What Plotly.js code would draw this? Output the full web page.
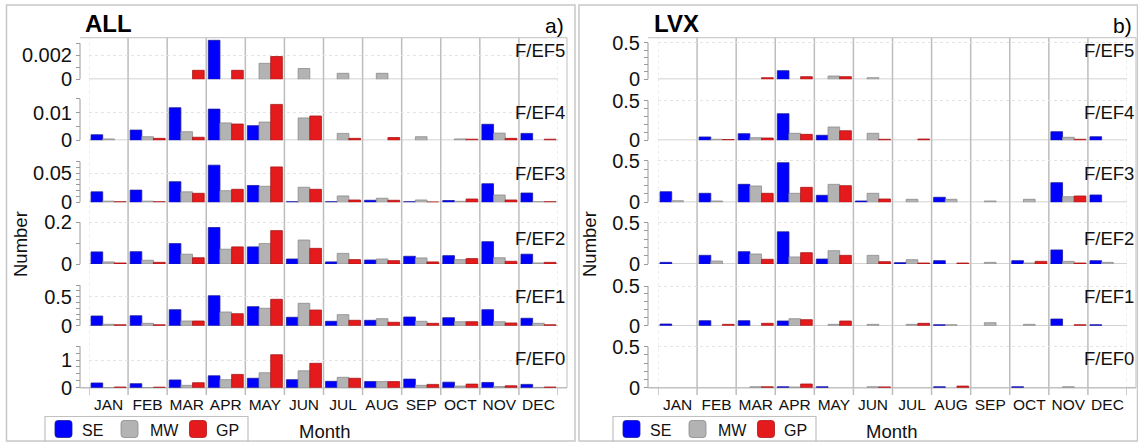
<!DOCTYPE html>
<html>
<head>
<meta charset="utf-8">
<script src="https://cdn.plot.ly/plotly-3.0.1.min.js"></script>
<style>
  html, body { margin: 0; padding: 0; background: #ffffff; }
  #chart { width: 1138px; height: 442px; }
</style>
</head>
<body>
<div id="chart"></div>
<script>
// Monthly tornado counts by rating and region
const months = ['JAN', 'FEB', 'MAR', 'APR', 'MAY', 'JUN', 'JUL', 'AUG', 'SEP', 'OCT', 'NOV', 'DEC'];
const regions = ['SE', 'MW', 'GP'];
const ratings = ['F/EF5', 'F/EF4', 'F/EF3', 'F/EF2', 'F/EF1', 'F/EF0'];

// ALL
const all_ef5_se = [0, 0, 0, 0.00325, 0, 0, 0, 0, 0, 0, 0, 0];
const all_ef5_mw = [0, 0, 0, 0, 0.00133, 0.0009, 0.0005, 0.0005, 0, 0, 0, 0];
const all_ef5_gp = [0, 0, 0.00075, 0.00075, 0.0019, 0, 0, 0, 0, 0, 0, 0];

const all_ef4_se = [0.002, 0.0037, 0.0118, 0.0113, 0.0053, 0, 0, 0, 0, 0, 0.0058, 0.0025];
const all_ef4_mw = [0.0005, 0.0013, 0.0031, 0.0063, 0.0066, 0.0081, 0.0025, 0, 0.0013, 0.0005, 0.0026, 0];
const all_ef4_gp = [0, 0.0007, 0.0011, 0.0059, 0.013, 0.0088, 0.0007, 0.001, 0, 0.0004, 0.0007, 0.0004];

const all_ef3_se = [0.018, 0.021, 0.0355, 0.064, 0.029, 0.001, 0.001, 0.0035, 0.001, 0.003, 0.032, 0.016];
const all_ef3_mw = [0.002, 0.002, 0.018, 0.020, 0.0276, 0.026, 0.011, 0.007, 0.004, 0.0017, 0.0126, 0.001];
const all_ef3_gp = [0.001, 0.001, 0.0155, 0.0224, 0.061, 0.0224, 0.004, 0.0035, 0.0005, 0.0057, 0.004, 0.001];

const all_ef2_se = [0.058, 0.059, 0.098, 0.175, 0.082, 0.024, 0.01, 0.019, 0.037, 0.04, 0.107, 0.047];
const all_ef2_mw = [0.01, 0.018, 0.047, 0.071, 0.098, 0.115, 0.051, 0.024, 0.029, 0.021, 0.03, 0.005];
const all_ef2_gp = [0.005, 0.008, 0.03, 0.082, 0.16, 0.075, 0.021, 0.016, 0.01, 0.026, 0.013, 0.008];

const all_ef1_se = [0.167, 0.172, 0.276, 0.517, 0.328, 0.145, 0.076, 0.093, 0.15, 0.138, 0.276, 0.128];
const all_ef1_mw = [0.024, 0.041, 0.081, 0.236, 0.3, 0.386, 0.19, 0.121, 0.076, 0.069, 0.069, 0.041];
const all_ef1_gp = [0.017, 0.017, 0.081, 0.207, 0.455, 0.27, 0.093, 0.059, 0.041, 0.069, 0.047, 0.017];

const all_ef0_se = [0.17, 0.145, 0.28, 0.43, 0.34, 0.29, 0.23, 0.22, 0.31, 0.2, 0.19, 0.12];
const all_ef0_mw = [0.005, 0.005, 0.085, 0.29, 0.54, 0.61, 0.375, 0.22, 0.085, 0.06, 0.04, 0.01];
const all_ef0_gp = [0.025, 0.02, 0.18, 0.48, 1.19, 0.88, 0.34, 0.22, 0.12, 0.13, 0.07, 0.025];

// LVX
const lvx_ef5_se = [0, 0, 0, 0.118, 0, 0, 0, 0, 0, 0, 0, 0];
const lvx_ef5_mw = [0, 0, 0, 0, 0.045, 0.022, 0, 0, 0, 0, 0, 0];
const lvx_ef5_gp = [0, 0, 0.022, 0.036, 0.036, 0, 0, 0, 0, 0, 0, 0];

const lvx_ef4_se = [0, 0.042, 0.083, 0.334, 0.063, 0, 0, 0, 0, 0, 0.108, 0.045];
const lvx_ef4_mw = [0, 0.013, 0.033, 0.088, 0.167, 0.088, 0, 0, 0, 0, 0.038, 0];
const lvx_ef4_gp = [0, 0.01, 0.029, 0.075, 0.12, 0.013, 0.016, 0, 0, 0, 0.013, 0];

const lvx_ef3_se = [0.127, 0.108, 0.216, 0.476, 0.084, 0.016, 0, 0.06, 0, 0, 0.236, 0.088];
const lvx_ef3_mw = [0.019, 0.016, 0.196, 0.108, 0.216, 0.108, 0.036, 0.036, 0.016, 0.036, 0.067, 0];
const lvx_ef3_gp = [0, 0, 0.108, 0.18, 0.2, 0.04, 0, 0, 0, 0, 0.076, 0];

const lvx_ef2_se = [0.02, 0.105, 0.149, 0.39, 0.06, 0, 0.016, 0.04, 0, 0.04, 0.17, 0.04];
const lvx_ef2_mw = [0, 0.036, 0.121, 0.085, 0.161, 0.105, 0.052, 0, 0.02, 0.012, 0.032, 0.02];
const lvx_ef2_gp = [0, 0, 0.057, 0.137, 0.105, 0.028, 0.012, 0.012, 0, 0.032, 0.012, 0];

const lvx_ef1_se = [0.021, 0.063, 0.063, 0.059, 0, 0, 0, 0.013, 0, 0, 0.084, 0.013];
const lvx_ef1_mw = [0, 0, 0, 0.088, 0.017, 0.017, 0.017, 0.013, 0.038, 0.017, 0, 0];
const lvx_ef1_gp = [0, 0.017, 0.03, 0.076, 0.059, 0, 0.03, 0, 0, 0, 0.013, 0];

const lvx_ef0_se = [0, 0, 0, 0.012, 0.012, 0, 0, 0.012, 0, 0.012, 0, 0];
const lvx_ef0_mw = [0, 0, 0.012, 0.008, 0, 0.012, 0, 0, 0, 0, 0.012, 0];
const lvx_ef0_gp = [0, 0, 0.012, 0.045, 0, 0.01, 0, 0.02, 0, 0, 0, 0];

// Tick marks per row (labelled ticks and unlabelled minor ticks)
const all_ticks = [
  { vals: [0, 0.002], text: ['0', '0.002'], minor: 0.001 },
  { vals: [0, 0.01], text: ['0', '0.01'], minor: 0.005 },
  { vals: [0, 0.05], text: ['0', '0.05'], minor: 0.01 },
  { vals: [0, 0.2], text: ['0', '0.2'], minor: 0.1 },
  { vals: [0, 0.5], text: ['0', '0.5'], minor: 0.1 },
  { vals: [0, 1], text: ['0', '1'], minor: 0.25 }
];
const all_tops = [0.003, 0.015, 0.07, 0.2, 0.7, 1.5];
const lvx_tick = { vals: [0, 0.5], text: ['0', '0.5'], minor: 0.1 };
const lvx_ticks = [lvx_tick, lvx_tick, lvx_tick, lvx_tick, lvx_tick, lvx_tick];
const lvx_tops = [0.5, 0.5, 0.5, 0.5, 0.5, 0.5];

// ---- drawing ----
const W = 1138, H = 442;
const px = v => v / W;
const py = v => 1 - v / H;
const FONT = '"Liberation Sans", Arial, Helvetica, sans-serif';
const TXT = '#111111';

const colors = ['#0000ff', '#b3b3b3', '#e41a1c'];
const edges = ['#1a1aa0', '#8c8c8c', '#a81818'];
const LINE = '#bdbdbd';
const AXIS = '#9a9a9a';

const FRAME_TOP = 37.7;
const FRAME_BOTTOM = 387.7;
const TICK_BOTTOM = 395;

const panels = [
  {
    title: 'ALL', tag: 'a)',
    series: [
      [all_ef5_se, all_ef5_mw, all_ef5_gp],
      [all_ef4_se, all_ef4_mw, all_ef4_gp],
      [all_ef3_se, all_ef3_mw, all_ef3_gp],
      [all_ef2_se, all_ef2_mw, all_ef2_gp],
      [all_ef1_se, all_ef1_mw, all_ef1_gp],
      [all_ef0_se, all_ef0_mw, all_ef0_gp]
    ],
    ticks: all_ticks, tops: all_tops,
    // pixel geometry: row zero lines and pixels per unit
    zero: [79.3, 140.3, 202.3, 264, 325.7, 387.7],
    scale: [12000, 2760, 580, 208.5, 58, 27.7],
    box: [6.5, 575], axisX: 80, plotL: 89, plotR: 558, frameR: 567,
    titleX: 83, tagR: 566, numberX: 20, monthX: 324, legendL: 45
  },
  {
    title: 'LVX', tag: 'b)',
    series: [
      [lvx_ef5_se, lvx_ef5_mw, lvx_ef5_gp],
      [lvx_ef4_se, lvx_ef4_mw, lvx_ef4_gp],
      [lvx_ef3_se, lvx_ef3_mw, lvx_ef3_gp],
      [lvx_ef2_se, lvx_ef2_mw, lvx_ef2_gp],
      [lvx_ef1_se, lvx_ef1_mw, lvx_ef1_gp],
      [lvx_ef0_se, lvx_ef0_mw, lvx_ef0_gp]
    ],
    ticks: lvx_ticks, tops: lvx_tops,
    zero: [79.3, 140.3, 202.3, 264, 325.7, 387.7],
    scale: [73.2, 79.6, 83.2, 82.6, 79.4, 82],
    box: [579, 1137.5], axisX: 648, plotL: 658, plotR: 1127, frameR: 1136,
    titleX: 652, tagR: 1134, numberX: 589, monthX: 891, legendL: 613
  }
];
const labelY = [50, 112, 173.3, 239, 296.7, 358];

const data = [];
const shapes = [];
const annotations = [];
const layout = {
  width: W, height: H,
  margin: { l: 0, r: 0, t: 0, b: 0 },
  paper_bgcolor: '#ffffff', plot_bgcolor: 'rgba(0,0,0,0)',
  barmode: 'group', bargap: 0.105, bargroupgap: 0,
  showlegend: false,
  font: { family: FONT, color: TXT },
  hovermode: false
};

function line(x0, y0, x1, y1, xref, yref, color, width, dash, layer) {
  return { type: 'line', x0, y0, x1, y1, xref, yref, layer: layer || 'between',
           line: { color, width, dash: dash || 'solid' } };
}

// rounded square given pixel corners (top-left, bottom-right)
function roundRect(left, top, right, bottom, r) {
  const a = px(left), b = px(right), lo = py(bottom), hi = py(top);
  const rx = r / W, ry = r / H;
  return `M${a + rx},${lo} L${b - rx},${lo} Q${b},${lo} ${b},${lo + ry} L${b},${hi - ry} ` +
         `Q${b},${hi} ${b - rx},${hi} L${a + rx},${hi} Q${a},${hi} ${a},${hi - ry} ` +
         `L${a},${lo + ry} Q${a},${lo} ${a + rx},${lo} Z`;
}

panels.forEach((p, pi) => {
  const xId = pi === 0 ? 'x' : 'x2';
  const xKey = pi === 0 ? 'xaxis' : 'xaxis2';
  const bottomY = 'y' + (pi * 6 + 6);

  layout[xKey] = {
    domain: [px(p.plotL), px(p.plotR)], anchor: bottomY,
    type: 'category', categoryorder: 'array', categoryarray: months,
    range: [-0.5, 11.5], showgrid: false, zeroline: false, showline: false,
    ticks: '', tickfont: { size: 15.5, color: TXT, family: FONT },
    ticklabelstandoff: 6, fixedrange: true
  };

  p.series.forEach((rowSeries, ri) => {
    const n = pi * 6 + ri + 1;
    const yId = n === 1 ? 'y' : 'y' + n;
    const yKey = n === 1 ? 'yaxis' : 'yaxis' + n;
    const zero = p.zero[ri], scale = p.scale[ri];
    const topPx = ri === 0 ? FRAME_TOP : zero - 45;
    const t = p.ticks[ri];
    const lastTick = p.tops[ri];

    layout[yKey] = {
      domain: [py(zero), py(topPx)],
      range: [0, (zero - topPx) / scale],
      anchor: 'free', position: px(p.axisX),
      tickmode: 'array', tickvals: t.vals, ticktext: t.text,
      ticks: 'outside', ticklen: 4, tickwidth: 1, tickcolor: AXIS,
      minor: { tickmode: 'linear', tick0: 0, dtick: t.minor, ticks: 'outside', ticklen: 4,
               tickwidth: 1, tickcolor: AXIS, showgrid: false },
      showgrid: true, gridcolor: '#e4e4e4', griddash: 'dot', gridwidth: 1,
      zeroline: false, showline: false,
      tickfont: { size: 20, color: TXT, family: FONT },
      ticklabelstandoff: 0, fixedrange: true
    };

    // axis spine covers the tick span only
    shapes.push(line(px(p.axisX), 0, px(p.axisX), lastTick, 'paper', yId, AXIS, 1));
    // zero baseline of each row
    shapes.push(line(-0.5, 0, 11.5, 0, xId, yId, '#c4c4c4', 1.5));

    rowSeries.forEach((vals, k) => {
      data.push({
        type: 'bar', x: months,
        // months with no events have no bar
        y: vals.map(v => (v === 0 ? null : v)),
        xaxis: xId, yaxis: yId, name: regions[k],
        marker: { color: colors[k], line: { color: edges[k], width: 0.8 } },
        hoverinfo: 'skip'
      });
    });

    annotations.push({
      text: ratings[ri], xref: 'paper', yref: 'paper',
      x: px(p.frameR), y: py(labelY[ri]), xanchor: 'right', yanchor: 'middle',
      showarrow: false, font: { size: 18.5, color: TXT, family: FONT }
    });
  });

  // month separators and end ticks
  for (let i = 0; i <= 12; i++) {
    const xv = i - 0.5;
    if (i === 0 || i === 12) {
      shapes.push(line(xv, py(FRAME_BOTTOM), xv, py(FRAME_TOP), xId, 'paper', '#dcdcdc', 1, 'dot'));
      shapes.push(line(xv, py(TICK_BOTTOM), xv, py(FRAME_BOTTOM), xId, 'paper', LINE, 1.5));
    } else {
      shapes.push(line(xv, py(TICK_BOTTOM), xv, py(FRAME_TOP), xId, 'paper', LINE, 1.5));
    }
  }

  // plot frame (top, right, bottom)
  shapes.push(line(px(p.axisX), py(FRAME_TOP), px(p.frameR), py(FRAME_TOP), 'paper', 'paper', '#cccccc', 1.3));
  shapes.push(line(px(p.frameR), py(FRAME_TOP), px(p.frameR), py(FRAME_BOTTOM), 'paper', 'paper', '#cccccc', 1.3));
  shapes.push(line(px(p.axisX), py(FRAME_BOTTOM), px(p.frameR), py(FRAME_BOTTOM), 'paper', 'paper', '#bdbdbd', 1.5));

  // outer panel box
  shapes.push({ type: 'rect', xref: 'paper', yref: 'paper', layer: 'below',
    x0: px(p.box[0]), x1: px(p.box[1]), y0: py(441), y1: py(5),
    line: { color: '#c8c8c8', width: 1.5 }, fillcolor: 'rgba(0,0,0,0)' });

  // panel titles
  annotations.push({ text: '<b>' + p.title + '</b>', xref: 'paper', yref: 'paper',
    x: px(p.titleX), y: py(23), xanchor: 'left', yanchor: 'middle', showarrow: false,
    font: { size: 24, color: '#000', family: FONT } });
  annotations.push({ text: p.tag, xref: 'paper', yref: 'paper',
    x: px(p.tagR), y: py(25), xanchor: 'right', yanchor: 'middle', showarrow: false,
    font: { size: 21, color: '#000', family: FONT } });
  annotations.push({ text: 'Number', xref: 'paper', yref: 'paper', textangle: -90,
    x: px(p.numberX), y: py(244), xanchor: 'center', yanchor: 'middle', showarrow: false,
    font: { size: 18.5, color: TXT, family: FONT } });
  annotations.push({ text: 'Month', xref: 'paper', yref: 'paper',
    x: px(p.monthX), y: py(431), xanchor: 'center', yanchor: 'middle', showarrow: false,
    font: { size: 18.5, color: TXT, family: FONT } });

  // legend
  const L = p.legendL;
  shapes.push({ type: 'rect', xref: 'paper', yref: 'paper', layer: 'below',
    x0: px(L), x1: px(L + 203), y0: py(447), y1: py(416.5),
    line: { color: '#c0c0c0', width: 1.2 }, fillcolor: 'rgba(0,0,0,0)' });
  const swatchOff = [10, 76, 144.5];
  const textOff = [35, 102.5, 169];
  regions.forEach((reg, k) => {
    shapes.push({ type: 'path', xref: 'paper', yref: 'paper', layer: 'above',
      path: roundRect(L + swatchOff[k], 420.5, L + swatchOff[k] + 17, 437.5, 3),
      fillcolor: colors[k], line: { color: edges[k], width: 0.8 } });
    annotations.push({ text: reg, xref: 'paper', yref: 'paper',
      x: px(L + textOff[k]), y: py(430), xanchor: 'left', yanchor: 'middle', showarrow: false,
      font: { size: 16, color: TXT, family: FONT } });
  });
});

layout.shapes = shapes;
layout.annotations = annotations;

Plotly.newPlot('chart', data, layout, { staticPlot: true, displayModeBar: false });
</script>
</body>
</html>
